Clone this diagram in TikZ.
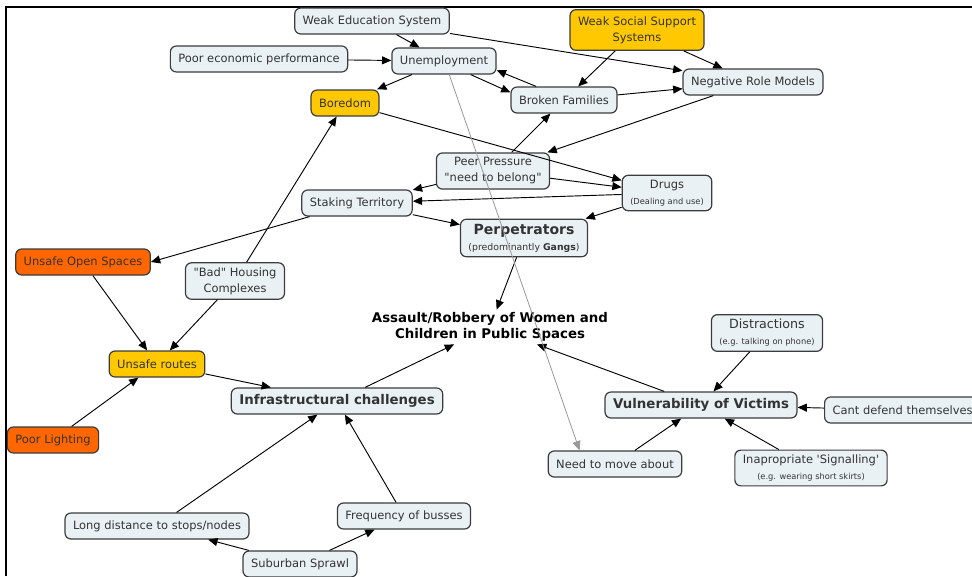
\documentclass[tikz,border=0pt]{standalone}
\usepackage{fontspec}
\setmainfont{DejaVu Sans}
\usetikzlibrary{arrows.meta}
\definecolor{boxfill}{HTML}{EAF1F5}
\definecolor{yelfill}{HTML}{FFC800}
\definecolor{orgfill}{HTML}{FF6600}
\definecolor{boxline}{HTML}{3C3C3C}
\newcommand{\subtxt}[1]{{\fontsize{6.2}{7.5}\selectfont #1}}
\newcommand{\titletxt}[1]{{\bfseries\fontsize{10}{12}\selectfont #1}}
\begin{document}
\begin{tikzpicture}[x=0.75pt, y=-0.75pt,
	box/.style={draw=boxline, fill=boxfill, rounded corners=4.5pt, line width=0.9pt, font=\fontsize{8.6}{12}\selectfont, text=black!80, align=center, inner xsep=6pt, inner ysep=3.5pt, minimum height=19.5pt},
	yel/.style={box, fill=yelfill},
	org/.style={box, fill=orgfill},
	con/.style={-{Triangle[length=7pt,width=6pt]}, line width=0.7pt},
	]
		\useasboundingbox (0,0) rectangle (972,576);
		\fill[white] (0,0) rectangle (972,576);
		\draw[line width=1.6pt] (6,576) -- (6,7) -- (972,7);
		\node[box] (wes) at (372,21) {Weak Education System};
		\node[box] (poor) at (259,59) {Poor economic performance};
		\node[box] (unemp) at (444,61) {Unemployment};
		\node[yel, minimum height=30.5pt] (wss) at (637,30) {Weak Social Support\\Systems};
		\node[box] (nrm) at (753,82) {Negative Role Models};
		\node[box] (broken) at (564,100) {Broken Families};
		\node[yel] (bored) at (345,103) {Boredom};
		\node[box] (peer) at (493,171) {Peer Pressure\\\textquotedbl need to belong\textquotedbl};
		\node[box] (drugs) at (667,193) {Drugs\\\subtxt{(Dealing and use)}};
		\node[box] (stake) at (357,203) {Staking Territory};
		\node[box] (perp) at (524,238) {{\bfseries\fontsize{10.5}{12.5}\selectfont Perpetrators}\\{\fontsize{7}{8}\selectfont (predominantly \textbf{Gangs})}};
		\node[org] (uos) at (83,262) {Unsafe Open Spaces};
		\node[box] (housing) at (235,281) {\textquotedbl Bad\textquotedbl{} Housing\\Complexes};
		\node[font=\bfseries\fontsize{10}{12}\selectfont, align=center, inner sep=2pt] (assault) at (490,327) {Assault/Robbery of Women and\\Children in Public Spaces};
		\node[box] (distr) at (767,333) {{\fontsize{9.5}{11}\selectfont Distractions}\\\subtxt{(e.g. talking on phone)}};
		\node[yel] (routes) at (157,364) {Unsafe routes};
		\node[box] (infra) at (337,401) {\titletxt{Infrastructural challenges}};
		\node[box] (vuln) at (701,405) {\titletxt{Vulnerability of Victims}};
		\node[box, anchor=west] (cant) at (824,410) {Cant defend themselves};
		\node[org] (light) at (53,440) {Poor Lighting};
		\node[box] (move) at (615,464) {Need to move about};
		\node[box] (signal) at (811,468) {Inapropriate \textquotesingle Signalling\textquotesingle\\\subtxt{(e.g. wearing short skirts)}};
		\node[box] (longd) at (157,526) {Long distance to stops/nodes};
		\node[box] (freq) at (404,516) {Frequency of busses};
		\node[box] (sprawl) at (300,564) {Suburban Sprawl};
		\draw[con] (wes) -- (unemp);
		\draw[con] (wes) -- (nrm);
		\draw[con] (poor) -- (unemp);
		\draw[con] (unemp) -- (bored);
		\draw[con] (unemp.-27) -- (broken.172);
		\draw[con] (broken.154) -- (unemp.-10);
		\draw[con] (wss) -- (broken);
		\draw[con] (wss) -- (nrm);
		\draw[con] (broken) -- (nrm);
		\draw[con] (nrm) -- (peer);
		\draw[con] (bored) -- (drugs);
		\draw[con] (peer) -- (broken);
		\draw[con] (peer) -- (drugs);
		\draw[con] (peer) -- (stake);
		\draw[con] (drugs) -- (stake);
		\draw[con] (drugs) -- (perp);
		\draw[con] (stake) -- (perp);
		\draw[con] (stake.196) -- (uos.east);
		\draw[con] (housing) -- (bored);
		\draw[con] (uos) -- (routes);
		\draw[con] (housing) -- (routes);
		\draw[con] (light) -- (routes);
		\draw[con] (routes) -- (infra);
		\draw[con] (infra) -- (assault);
		\draw[con] (perp) -- (assault);
		\draw[con] (vuln) -- (assault);
		\draw[con] (distr) -- (vuln);
		\draw[con] (cant) -- (vuln);
		\draw[con] (move) -- (vuln);
		\draw[con] (signal) -- (vuln);
		\draw[con] (longd) -- (infra);
		\draw[con] (freq) -- (infra);
		\draw[con] (sprawl) -- (longd);
		\draw[con] (sprawl) -- (freq);
		\draw[con, black!40, line width=0.6pt] (unemp.-69) -- (move.159);
		\end{tikzpicture}
\end{document}
